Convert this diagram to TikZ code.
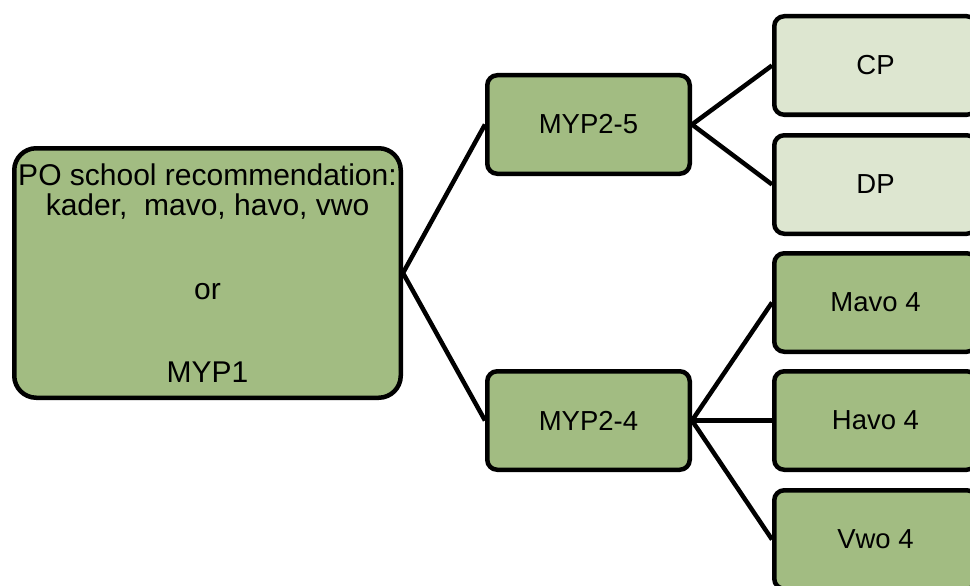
\documentclass[tikz,border=0pt]{standalone}
\usepackage{fontspec}
\setmainfont{Liberation Sans}
\definecolor{dgreen}{RGB}{162,188,130}
\definecolor{lgreen}{RGB}{221,230,208}
\tikzset{
  box/.style={draw=black, line width=4.5pt, rounded corners=10pt, fill=dgreen,
    minimum width=202.5pt, minimum height=98.5pt, inner sep=0pt,
    font=\fontsize{27.5}{33}\selectfont},
  lbox/.style={box, fill=lgreen},
  bigbox/.style={draw=black, line width=4.5pt, rounded corners=22pt, fill=dgreen,
    minimum width=386.5pt, minimum height=249.5pt, inner sep=0pt, align=center,
    font=\fontsize{30}{30}\selectfont},
  link/.style={draw=black, line width=4.5pt}
}
\begin{document}
\begin{tikzpicture}[x=1pt,y=-1pt]
\useasboundingbox (0,0) rectangle (970,586);
\clip (0,0) rectangle (970,586);
\node[bigbox] (po) at (207.5,273) {PO school recommendation:\\kader,\ \ mavo, havo, vwo\\[54pt]or\\[53pt]MYP1};
\node[box] (m25) at (588.5,124.5) {MYP2-5};
\node[box] (m24) at (588.5,420.5) {MYP2-4};
\node[lbox] (cp) at (875.5,65.5) {CP};
\node[lbox] (dp) at (875.5,184.5) {DP};
\node[box] (mavo) at (875.5,302.5) {Mavo 4};
\node[box] (havo) at (875.5,420.5) {Havo 4};
\node[box] (vwo) at (875.5,539.5) {Vwo 4};
\draw[link] (po.east) -- (m25.west);
\draw[link] (po.east) -- (m24.west);
\draw[link] (m25.east) -- (cp.west);
\draw[link] (m25.east) -- (dp.west);
\draw[link] (m24.east) -- (mavo.west);
\draw[link] (m24.east) -- (havo.west);
\draw[link] (m24.east) -- (vwo.west);
\end{tikzpicture}
\end{document}
